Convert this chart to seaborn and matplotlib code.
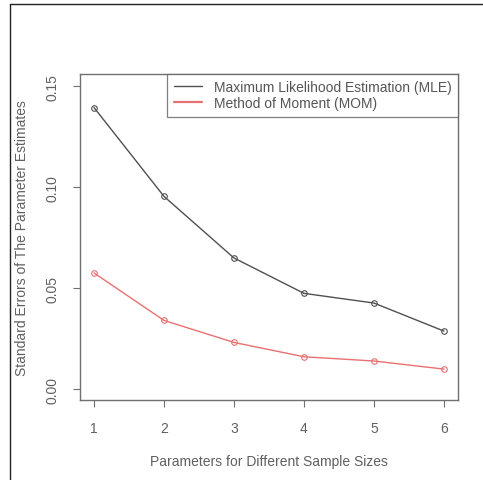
import matplotlib
matplotlib.use("Agg")
import matplotlib.pyplot as plt
import seaborn as sns
import pandas as pd
from matplotlib.lines import Line2D

params = [1, 2, 3, 4, 5, 6]
mle = [0.1394, 0.0954, 0.0649, 0.0474, 0.0426, 0.0287]
mom = [0.0575, 0.0340, 0.0231, 0.0160, 0.0139, 0.0099]
labels = ["Maximum Likelihood Estimation (MLE)", "Method of Moment (MOM)"]
yticks = [0.00, 0.05, 0.10, 0.15]
yticklabels = ["0.00", "0.05", "0.10", "0.15"]

df = pd.DataFrame({
    "x": params * 2,
    "y": mle + mom,
    "series": [labels[0]] * 6 + [labels[1]] * 6,
})

sns.set_style("white")
plt.rcParams["font.family"] = ["Liberation Sans", "DejaVu Sans"]

fig = plt.figure(figsize=(4.83, 4.81), dpi=100)
ax = fig.add_axes([80 / 483, 1 - 401 / 481, (458 - 80) / 483, (401 - 75) / 481])

palette = {labels[0]: "#505050", labels[1]: "#e87070"}
sns.lineplot(data=df, x="x", y="y", hue="series", palette=palette, ax=ax,
             marker="o", markersize=4.0, markerfacecolor="none",
             markeredgewidth=0.8, linewidth=1.0, legend=False)
for l in ax.lines:
    l.set_markeredgecolor(l.get_color())

ax.set_xlim(0.8, 6.2)
ax.set_ylim(-0.0054, 0.156)
ax.set_xticks(params)
ax.set_xticklabels([str(p) for p in params])
ax.set_yticks(yticks)
ax.set_yticklabels(yticklabels, rotation=90, va="center")

tc = "#606060"
fs = 10
for s in ax.spines.values():
    s.set_color("#707070")
    s.set_linewidth(1.0)
ax.tick_params(axis="both", direction="out", length=5, width=0.8, color="#707070",
               labelsize=fs, labelcolor=tc, pad=10, bottom=True, left=True)
ax.set_xlabel("Parameters for Different Sample Sizes", fontsize=fs, color=tc)
ax.set_ylabel("Standard Errors of The Parameter Estimates", fontsize=fs, color=tc)
ax.xaxis.set_label_coords(0.5, (401 - 462) / 326, transform=ax.transAxes)
ax.yaxis.set_label_coords((22 - 80) / 378, 0.5, transform=ax.transAxes)
ax.xaxis.label.set_va("center")
ax.yaxis.label.set_va("center")

handles = [Line2D([], [], color=palette[labels[0]], lw=1.0),
           Line2D([], [], color=palette[labels[1]], lw=1.6)]
leg = ax.legend(handles, labels, loc="upper right", bbox_to_anchor=(1.0, 1.0),
                frameon=True, fancybox=False, fontsize=fs, handlelength=2.0,
                borderaxespad=0, borderpad=0.45, labelspacing=0.15, handletextpad=0.9)
leg.get_frame().set_edgecolor("#606060")
leg.get_frame().set_linewidth(0.9)
for t in leg.get_texts():
    t.set_color("#555555")

# outer frame lines (top and left)
fig.add_artist(Line2D([10 / 483, 1.0], [1 - 5 / 481, 1 - 5 / 481], transform=fig.transFigure,
                      color="#222222", lw=1.0))
fig.add_artist(Line2D([10 / 483, 10 / 483], [0, 1 - 5 / 481], transform=fig.transFigure,
                      color="#222222", lw=1.0))

fig.savefig("out.png", dpi=100, facecolor="white")
